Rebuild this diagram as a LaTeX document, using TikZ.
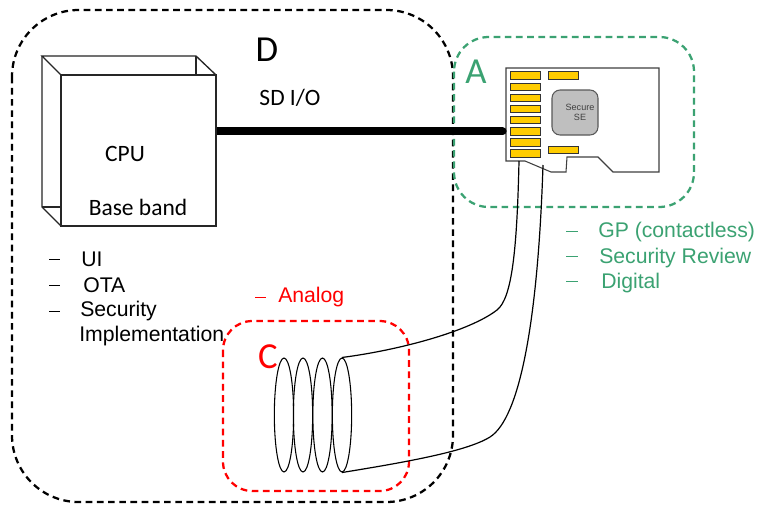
\documentclass[tikz,border=0pt]{standalone}
\usepackage{fontspec}
\setmainfont{Liberation Sans}
\newfontfamily\calibrifont{Carlito}
\usetikzlibrary{positioning}
\usetikzlibrary{shapes.geometric}
\definecolor{zonegreen}{HTML}{3BA272}
\definecolor{zonered}{HTML}{FF0000}
\definecolor{pingold}{HTML}{FFCC00}
\definecolor{segray}{HTML}{BFBFBF}
\tikzset{
  zone/.style={line width=1.7pt,dash pattern=on 5pt off 3.4pt},
  boxline/.style={draw=black!85,line width=1pt},
  pin/.style={rectangle,draw=black!80,fill=pingold,line width=0.7pt,inner sep=0pt,minimum width=22.5pt,minimum height=5.4pt},
  coil/.style={ellipse,draw=black,line width=0.8pt,inner sep=0pt,minimum width=14.5pt,minimum height=85.5pt},
  wire/.style={draw=black,line width=0.9pt},
  listtext/.style={font=\fontsize{15.9}{18}\selectfont,anchor=west,inner sep=0pt},
  calibri/.style={font=\calibrifont\fontsize{17.6}{20}\selectfont,inner sep=0pt},
  zonetag/.style={font=\calibrifont\fontsize{27.5}{30}\selectfont,inner sep=0pt},
  dashmark/.style={line width=0.5pt}
}
\begin{document}
\begin{tikzpicture}[x=0.75pt,y=-0.75pt]
\useasboundingbox (0,0) rectangle (757,504);
\fill[white] (0,0) rectangle (757,504);

% zones
\draw[zone,black,rounded corners=50pt] (12,10) rectangle (453,502);
\draw[zone,zonegreen,rounded corners=26pt] (454,37) rectangle (694,207);
\draw[zone,zonered,rounded corners=22pt] (223,321) rectangle (409,491);

% base band box
\draw[boxline] (61,75) -- (42,56) -- (196,56) -- (216,75);
\draw[boxline] (196,56) -- (196,75);
\draw[boxline] (42,56) -- (42,207) -- (61,226);
\draw[boxline] (42,207) -- (61,207);
\coordinate (cpuport) at (212,131.4);

% card
\draw[draw=black!75,line width=0.8pt] (506,68) -- (659,68) -- (659,172) -- (613,172) -- (598,157) -- (567,157) -- (566,172) -- (551,172) -- (525,161) -- (506,161) -- cycle;
\foreach \n/\y in {1/75.5,2/86.7,3/97.8,4/109,5/120.2,6/131.4,7/142.5,8/153.5}
  \node[pin] (pin\n) at (525,\y) {};
\node[pin,minimum width=23pt] (pintop) at (563.5,75.5) {};
\node[pin,minimum width=23pt] (pinbot) at (563.5,150) {};
\node[rectangle,rounded corners=6pt,draw=black!65,fill=segray,line width=0.8pt,minimum width=34.5pt,minimum height=33.75pt,inner sep=0pt] (se) at (575,112.5) {};
\node[font=\fontsize{6.8}{7.6}\selectfont,text=black!75,align=center,inner sep=0pt] at (580,112) {Secure\\SE};

% wires
\coordinate (cardleft) at (519,161);
\coordinate (cardright) at (543,165);
\draw[line width=6pt,line cap=round,black,shorten >=5.2pt] (cpuport) -- (pin6.west);
\node[boxline,rectangle,fill=white,inner sep=0pt,minimum width=116.25pt,minimum height=113.25pt] (baseband) at (138.5,150.5) {};

% coil
\foreach \n/\x in {1/284,2/303,3/322.5,4/342}
  \node[coil] (coil\n) at (\x,415) {};
\draw[wire] (coil4.north) .. controls (400,350) and (470,331) .. (497,310) .. controls (512,298.3) and (517,250) .. (cardleft);
\draw[wire] (coil4.south) .. controls (400,463) and (466,452) .. (490,437) .. controls (520,418) and (538,320) .. (cardright);

% labels
\node[zonetag] at (267,50) {D};
\node[calibri] at (290,98) {SD I/O};
\node[calibri] at (125,154) {CPU};
\node[calibri] at (138,207) {Base band};
\node[zonetag,text=zonegreen] at (476,72) {A};
\node[zonetag,text=zonered] at (268,357) {C};

\foreach \y in {259,285,311}
  \draw[dashmark] (49,\y) -- (60,\y);
\node[listtext] at (81,259) {UI};
\node[listtext] at (83,285) {OTA};
\node[listtext] at (80,311) {Security};
\node[listtext] at (79,336) {Implementation};

\foreach \y in {231,256,281}
  \draw[dashmark,zonegreen] (566,\y) -- (578,\y);
\node[listtext,text=zonegreen] at (598,232) {GP (contactless)};
\node[listtext,text=zonegreen] at (599,258) {Security Review};
\node[listtext,text=zonegreen] at (601,283) {Digital};

\draw[dashmark,zonered] (255,297) -- (266,297);
\node[listtext,text=zonered] at (278,297) {Analog};

\end{tikzpicture}
\end{document}
